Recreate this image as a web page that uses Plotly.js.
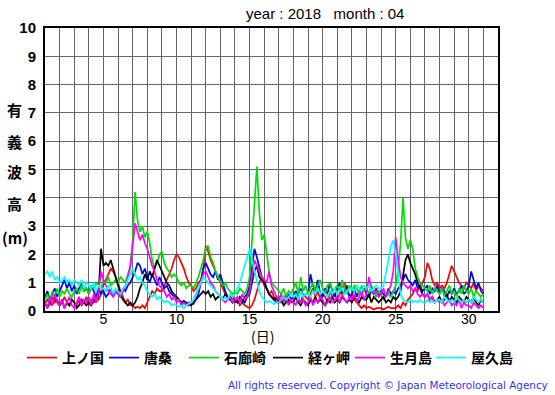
<!DOCTYPE html>
<html><head><meta charset="utf-8">
<script src="https://cdn.plot.ly/plotly-3.0.1.min.js"></script>
<style>html,body{margin:0;padding:0;background:#fff}#c{width:555px;height:395px}</style>
</head><body><div id="c"></div>
<script>
// 6 readings per day (every 4 h), day 1 00h .. day 31 00h
const stations = ["上ノ国","唐桑","石廊崎","経ヶ岬","生月島","屋久島"];
const colors = ["#ff0000","#0000ff","#00dd00","#000000","#ff00ff","#00ffff"];
const kaminokuni = [
 .3,.4,.2,.5,.3,.4, .2,.3,.5,.3,.2,.4, .3,.2,.4,.2,.3,.5, .2,.4,.3,.5,.4,.6,
 .9,1.1,1.3,1.5,1.4,1.2, 1.0,.7,.5,.3,.4,.2, .2,.1,.15,.1,.2,.1, .3,.5,.7,.6,.8,.7,
 .7,.9,1.1,1.3,1.5,1.8, 2.0,1.9,1.7,1.5,1.2,1.0, .9,.7,.8,1.0,1.1,1.5, 2.3,2.1,1.8,1.6,1.4,1.2,
 1.0,.8,.6,.5,.4,.5, .3,.4,.2,.3,.2,.15, .1,.2,.4,.7,1.0,1.2, .9,.8,.6,.7,.5,.4,
 .5,.3,.4,.6,.3,.4, .5,.7,.4,.3,.6,.5, .4,.6,.8,.5,.7,.4, .6,.5,.3,.7,.5,.6,
 .4,.6,.8,1.0,.7,.5, .6,.4,.3,.2,.1,.2, .1,.15,.1,.05,.1,.1, .1,.05,.1,.15,.1,.1,
 .1,.2,.1,.3,.2,.4, .5,.6,.8,.7,.9,1.0, 1.2,1.7,1.5,1.1,.9,1.0, .8,.9,.8,1.0,1.3,1.6,
 1.4,1.2,1.0,.9,.8,1.0, .9,.8,1.0,.7,.9,.8, .7];
const karakuwa = [
 .5,.7,.4,.6,.8,.5, .7,.9,1.1,.8,1.0,.7, .9,.6,.8,1.0,.7,.8, .6,.9,.7,.5,.8,.6,
 .7,.5,.6,.8,.5,.7, .6,.5,.8,.7,.9,1.0, 1.2,1.4,1.7,1.6,1.3,1.5, 1.2,1.0,1.3,1.1,.9,1.2,
 1.0,.8,.9,.7,.6,.5, .5,.4,.3,.35,.3,.2, .3,.25,.4,.6,1.0,1.5, 1.7,1.5,1.3,1.2,1.4,1.1,
 1.3,1.0,.7,.5,.4,.3, .35,.3,.4,.3,.5,.6, .9,1.6,2.2,1.9,1.5,1.2, 1.1,.8,.6,.5,.4,.3,
 .3,.4,.5,.3,.6,.4, .5,.7,.4,.8,.5,.6, .6,1.3,.9,.7,1.1,.6, .5,.8,.6,1.0,.7,.5,
 .8,1.0,.6,.7,.9,.5, .6,.8,.5,.7,.6,.8, .6,.5,.7,.6,.8,.5, .7,.6,.5,.8,.6,.7,
 .6,.8,.9,1.1,1.3,1.1, 1.0,.9,1.1,.8,.9,.7, .8,.9,.6,.8,.7,.9, .6,.8,.7,.5,.7,.6,
 .8,.6,.7,.9,.6,.7, .9,1.4,1.1,.8,1.0,.7, .6];
const irozaki = [
 .4,.6,.3,.7,.5,.8, .5,.7,.6,.8,.6,.5, .7,.8,.6,.9,.7,.8, .6,.9,.8,1.0,.9,.8,
 1.1,1.0,1.2,.9,1.0,1.1, 1.0,1.2,1.1,1.0,1.3,1.5, 2.5,4.2,3.2,2.8,3.0,2.6, 2.8,2.4,1.8,1.5,1.7,2.0,
 2.1,1.7,1.5,1.4,1.2,1.3, 1.2,1.0,.9,1.0,.8,.9, .9,.8,1.0,1.2,1.5,1.8, 2.2,2.3,1.9,1.7,1.4,1.2,
 1.0,.9,1.0,.8,.7,.6, .7,.6,.8,.7,.6,.8, 1.2,2.5,4.0,5.1,3.5,2.5, 2.7,2.0,1.4,1.0,.9,.8,
 .7,.6,.8,.5,.7,.6, .8,1.0,.6,1.2,.7,.9, .6,.8,1.0,.7,.9,1.1, .8,.6,.9,1.0,.7,.8,
 .9,.7,1.1,.8,.6,.9, .7,.9,.8,.6,.9,.7, .8,.6,.9,.7,.5,.7, .6,.4,.5,.6,.5,.7,
 .9,1.5,2.4,4.0,2.6,2.2, 2.5,2.2,1.5,1.2,1.0,.9, .8,.7,.9,.6,.8,.7, .6,.8,.5,.7,.9,.6,
 .7,.5,.8,.6,.9,.7, .6,.8,.5,.7,.6,.5, .6];
const kyogamisaki = [
 .3,.1,.4,.2,.5,.3, .2,.4,.1,.3,.2,.4, .3,.1,.2,.4,.3,.2, .3,.2,.4,.3,.6,2.2,
 1.6,1.7,1.6,1.8,1.5,1.2, .9,.6,.4,.3,.2,.3, .2,.3,.5,.8,1.0,1.3, 1.1,1.4,1.2,1.5,1.8,1.6,
 1.4,1.2,1.0,.9,.7,.6, .5,.4,.3,.35,.25,.3, .2,.3,.4,.5,.6,.7, .6,.7,.5,.6,.4,.5,
 .5,.4,.6,.4,.5,.3, .4,.3,.5,.4,.3,.5, .6,1.0,1.4,1.6,1.2,1.1, 1.0,.8,.6,.5,.4,.5,
 .3,.4,.2,.3,.4,.3, .3,.5,.3,.2,.4,.3, .2,.4,.3,.5,.3,.4, .3,.2,.4,.3,.5,.3,
 .4,.3,.5,.4,.3,.4, .3,.5,.4,.3,.5,.4, .4,.6,.3,.5,.4,.3, .4,.5,.3,.4,.3,.5,
 .4,.5,.7,1.2,1.8,2.0, 1.7,1.5,1.3,1.0,.8,.6, .5,.6,.4,.5,.3,.4, .5,.3,.4,.6,.3,.5,
 .4,.3,.5,.4,.3,.5, .4,.3,.5,.3,.2,.4, .3];
const ikitsukishima = [
 .3,.1,.5,.2,.6,.3, .2,.4,.1,.3,.5,.2, .1,.3,.5,.2,.4,.3, .5,.2,.6,.3,.7,1.4,
 1.1,.9,.7,.6,.5,.7, .6,.5,.7,.9,1.2,1.6, 2.3,3.1,2.8,2.5,2.7,2.4, 2.2,1.9,1.6,1.4,1.1,.9,
 .8,.7,.5,.6,.4,.5, .3,.4,.2,.3,.2,.3, .3,.4,.6,.8,1.0,1.3, 1.4,1.2,1.0,.9,.7,.6,
 .5,.4,.3,.4,.5,.3, .4,.5,.3,.6,.4,.5, .7,1.2,1.8,1.6,1.4,1.2, 1.1,1.0,1.4,.9,.7,.5,
 .4,.6,.3,.5,.2,.4, .3,.2,.5,.3,.4,.2, .3,.5,.2,.4,.3,.5, .4,.2,.3,.5,.3,.4,
 .5,.3,.6,.4,.3,.5, .4,.6,.3,.5,.7,.4, .6,1.2,.8,.6,.7,.5, .6,.8,.5,.7,.9,1.4,
 2.6,1.8,1.2,1.0,.9,.8, .9,.7,.8,.6,.5,.6, .5,.6,.4,.5,.3,.4, .3,.4,.2,.3,.4,.2,
 .3,.2,.4,.1,.3,.2, .2,.1,.3,.2,.1,.2, .1];
const yakushima = [
 1.3,1.4,1.2,1.4,1.1,1.2, 1.0,1.1,1.2,1.0,1.1,.9, 1.1,1.0,.9,1.1,.8,1.0, .9,.8,1.0,.7,.9,.8,
 .8,.7,.9,.8,.6,.8, .7,.6,.8,.9,1.1,1.3, 1.5,1.3,1.1,1.2,1.0,.9, .7,.6,.5,.6,.4,.5,
 .4,.3,.35,.3,.2,.25, .2,.15,.2,.1,.2,.25, .3,.4,.6,.8,1.0,1.2, 1.1,1.0,.9,.8,.7,.6,
 .5,.4,.5,.4,.6,.5, .6,.8,1.0,1.3,1.6,1.9, 2.2,1.8,1.4,1.0,.7,.5, .4,.3,.35,.3,.25,.3,
 .3,.4,.5,.4,.5,.6, .5,.6,.4,.7,.5,.6, .6,.5,.7,.6,.8,.6, .7,.6,.5,.7,.6,.8,
 .6,.7,.8,.6,.7,.8, .8,.7,.9,.8,.7,.9, .8,.9,.7,.8,.9,.8, .8,.9,1.3,1.8,2.3,2.5,
 2.0,1.2,.6,.4,.35,.3, .4,.3,.35,.3,.4,.3, .3,.4,.3,.35,.3,.4, .4,.3,.5,.4,.3,.4,
 .3,.5,.4,.3,.4,.3, .4,.3,.5,.4,.3,.4, .3];
const series = [kaminokuni, karakuwa, irozaki, kyogamisaki, ikitsukishima, yakushima];
const xTickVals = [5,10,15,20,25,30];
const yTickVals = [0,1,2,3,4,5,6,7,8,9,10];
const yTitleChars = ["有","義","波","高","(m)"];

const legendNames = ["legend","legend2","legend3","legend4","legend5","legend6"];
const traces = series.map((vals, k) => ({
  type: "scatter", mode: "lines", name: stations[k], legend: legendNames[k],
  x: vals.map((_, i) => 1 + i / 6), y: vals,
  line: {color: colors[k], width: 1.7}
}));

const gridVals = [];
for (let d = 1; d <= 32; d++) gridVals.push(d);

const PL = 45, PR = 498, PT = 28, PB = 311;
const px = v => (v - PL) / (PR - PL);
const py = v => (PB - v) / (PB - PT);

const annotations = [];
const yPos = [110, 141, 171, 203, 238];
yTitleChars.forEach((ch, i) => annotations.push({
  text: ch, xref: "paper", yref: "paper", x: px(15), y: py(yPos[i]),
  showarrow: false, xanchor: "center", yanchor: "middle",
  font: {family: "Noto Sans CJK JP", size: 15, color: "#000", weight: "bold"}
}));
annotations.push({text: "year : 2018   month : 04", xref: "paper", yref: "paper",
  x: px(325), y: py(13), showarrow: false, xanchor: "center", yanchor: "middle",
  font: {family: "Liberation Sans", size: 15, color: "#000"}});
annotations.push({text: "(日)", xref: "paper", yref: "paper",
  x: px(262), y: py(336), showarrow: false, xanchor: "center", yanchor: "middle",
  font: {family: "Noto Sans CJK JP", size: 14, color: "#000"}});
annotations.push({text: "All rights reserved. Copyright © Japan Meteorological Agency", xref: "paper", yref: "paper",
  x: px(550), y: py(385), showarrow: false, xanchor: "right", yanchor: "middle",
  font: {family: "DejaVu Sans", size: 10.4, color: "#3333ee"}});

const legendX = [30, 112, 192, 276, 358, 439];
const layout = {
  width: 555, height: 395,
  margin: {l: PL, r: 555 - PR, t: PT, b: 395 - PB, pad: 0},
  paper_bgcolor: "#fff", plot_bgcolor: "#fff",
  showlegend: true,
  xaxis: {range: [1, 32], tickmode: "array", tickvals: gridVals,
    ticktext: gridVals.map(d => xTickVals.includes(d) ? String(d) : ""),
    showgrid: true, gridcolor: "#666", gridwidth: 1, zeroline: false,
    showline: true, mirror: true, linecolor: "#000", linewidth: 2, ticks: "",
    ticklabelstandoff: -6,
    tickfont: {family: "Liberation Sans", size: 14, color: "#000"}, fixedrange: true},
  yaxis: {range: [0, 10], tickmode: "array", tickvals: yTickVals,
    showgrid: true, gridcolor: "#666", gridwidth: 1, zeroline: false,
    showline: true, mirror: true, linecolor: "#000", linewidth: 2, ticks: "",
    ticklabelstandoff: 4,
    tickfont: {family: "Liberation Sans", size: 15, color: "#000", weight: "bold"}, fixedrange: true},
  annotations: annotations
};
legendNames.forEach((ln, k) => {
  layout[ln] = {orientation: "h", xref: "container", yref: "container",
    x: (legendX[k] - 8) / 555, y: 1 - 358 / 395, xanchor: "left", yanchor: "middle",
    font: {family: "Noto Sans CJK JP", size: 14, color: "#000", weight: "bold"},
    bgcolor: "rgba(0,0,0,0)", borderwidth: 0, itemwidth: 30};
});
Plotly.newPlot("c", traces, layout, {displayModeBar: false, staticPlot: true});
</script></body></html>
